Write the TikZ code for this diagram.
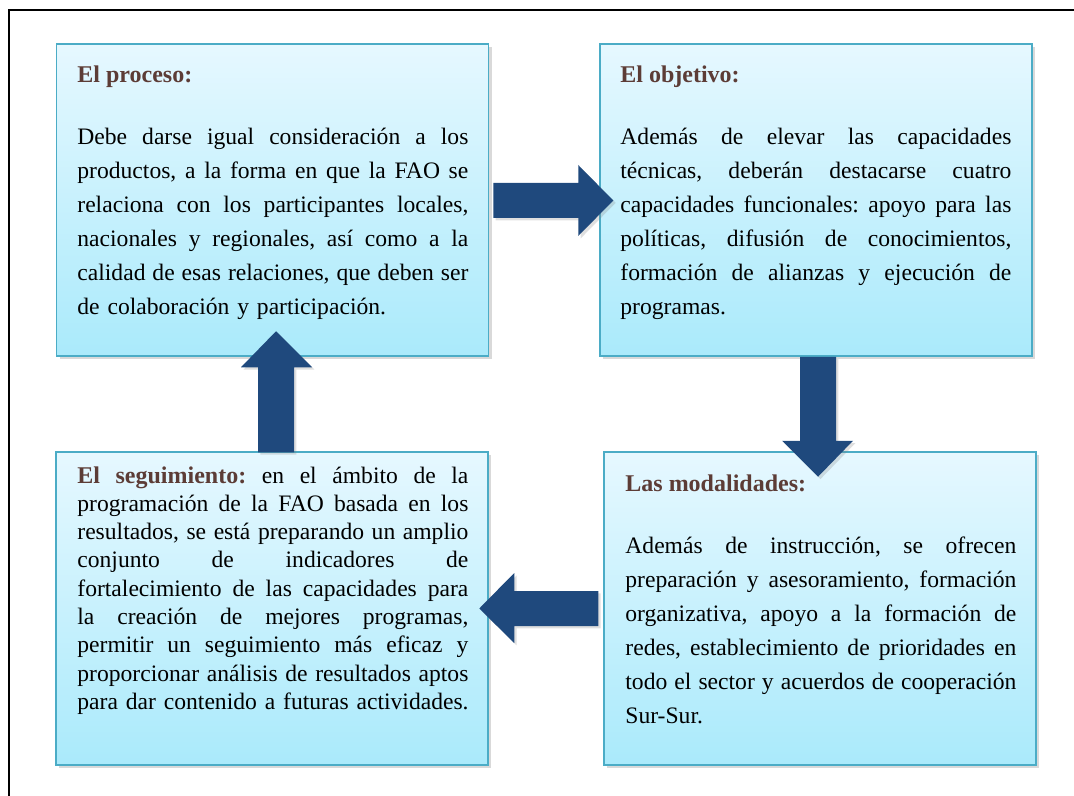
\documentclass[tikz,border=0pt]{standalone}
\usepackage{fontspec}
\setmainfont{Liberation Serif}
\usetikzlibrary{shadows,positioning}
\definecolor{panelline}{RGB}{75,172,198}
\definecolor{paneltop}{RGB}{230,248,255}
\definecolor{panelbottom}{RGB}{170,234,251}
\definecolor{arrowblue}{RGB}{31,73,125}
\definecolor{titlebrown}{RGB}{92,60,54}
\newlength{\bodywd}
\setlength{\bodywd}{195.5pt}
\newcommand{\jline}[1]{\hbox to\bodywd{\spaceskip=0.25em plus 1fil minus 0.1em\relax #1}}
\newcommand{\lline}[1]{\hbox{#1}}

\begin{document}
\frenchspacing
\begin{tikzpicture}[x=0.5pt,y=-0.5pt,
  panel/.style={rectangle,draw=panelline,line width=0.75pt,top color=paneltop,bottom color=panelbottom,
    minimum width=216pt,minimum height=156pt,inner sep=0pt,
    drop shadow={shadow xshift=1.5pt,shadow yshift=-1.5pt,opacity=0.3}},
  heading/.style={inner sep=0pt,anchor=base west,text=titlebrown,font=\fontsize{12}{17}\selectfont\bfseries},
  bodytext/.style={inner sep=0pt,anchor=base west,text width=\bodywd,font=\fontsize{11.8}{17}\selectfont},
  blockarrow/.style={fill=arrowblue,drop shadow={shadow xshift=1.2pt,shadow yshift=-1.2pt,opacity=0.25}}]

  \useasboundingbox (0,0) rectangle (1074,796);
  \clip (0,0) rectangle (1074,796);

  % Outer frame
  \draw[line width=1pt] (8.7,10.5) rectangle (1100,820);

  % Boxes
  \node[panel] (proc) at (272.5,200) {};
  \node[panel] (goal) at (816,200) {};
  \node[panel,minimum height=156.5pt] (mode) at (820,608.5) {};
  \node[panel,minimum height=156.5pt] (track) at (272,608.5) {};

  % Box texts
  \node[heading] (proc title) at (77,83) {El proceso:};
  \node[bodytext] (proc text) at (77,145) {%
    \jline{Debe darse igual consideración a los}
    \jline{productos, a la forma en que la FAO se}
    \jline{relaciona con los participantes locales,}
    \jline{nacionales y regionales, así como a la}
    \jline{calidad de esas relaciones, que deben ser}
    \lline{de colaboración y participación.}};

  \node[heading] (goal title) at (620,83) {El objetivo:};
  \node[bodytext] (goal text) at (620,145) {%
    \jline{Además de elevar las capacidades}
    \jline{técnicas, deberán destacarse cuatro}
    \jline{capacidades funcionales: apoyo para las}
    \jline{políticas, difusión de conocimientos,}
    \jline{formación de alianzas y ejecución de}
    \lline{programas.}};

  \node[heading] (mode title) at (625,491) {Las modalidades:};
  \node[bodytext] (mode text) at (625,553) {%
    \jline{Además de instrucción, se ofrecen}
    \jline{preparación y asesoramiento, formación}
    \jline{organizativa, apoyo a la formación de}
    \jline{redes, establecimiento de prioridades en}
    \jline{todo el sector y acuerdos de cooperación}
    \lline{Sur-Sur.}};

  \node[bodytext,font=\fontsize{11.8}{14.15}\selectfont] (track text) at (77,483) {%
    \jline{\textbf{\color{titlebrown}\fontsize{12}{14.15}\selectfont El seguimiento:} en el ámbito de la}
    \jline{programación de la FAO basada en los}
    \jline{resultados, se está preparando un amplio}
    \jline{conjunto de indicadores de}
    \jline{fortalecimiento de las capacidades para}
    \jline{la creación de mejores programas,}
    \jline{permitir un seguimiento más eficaz y}
    \jline{proporcionar análisis de resultados aptos}
    \lline{para dar contenido a futuras actividades.}};

  % Block arrows between the boxes
  \fill[blockarrow,shift={(proc.east)}] (4,-17) -- (89,-17) -- (89,-35) -- (124,0.5) -- (89,36) -- (89,18) -- (4,18) -- cycle;
  \fill[blockarrow,shift={(goal.south)}] (-16,0) -- (20,0) -- (20,84) -- (37,84) -- (2,120) -- (-34,84) -- (-16,84) -- cycle;
  \fill[blockarrow,shift={(mode.west)}] (-5,-17.5) -- (-5,17.5) -- (-89,17.5) -- (-89,34.5) -- (-124,0) -- (-89,-35.5) -- (-89,-17.5) -- cycle;
  \fill[blockarrow,shift={(track.north)}] (-14,1) -- (-14,-84) -- (-31,-84) -- (4,-120) -- (40,-84) -- (22,-84) -- (22,1) -- cycle;

\end{tikzpicture}
\end{document}
